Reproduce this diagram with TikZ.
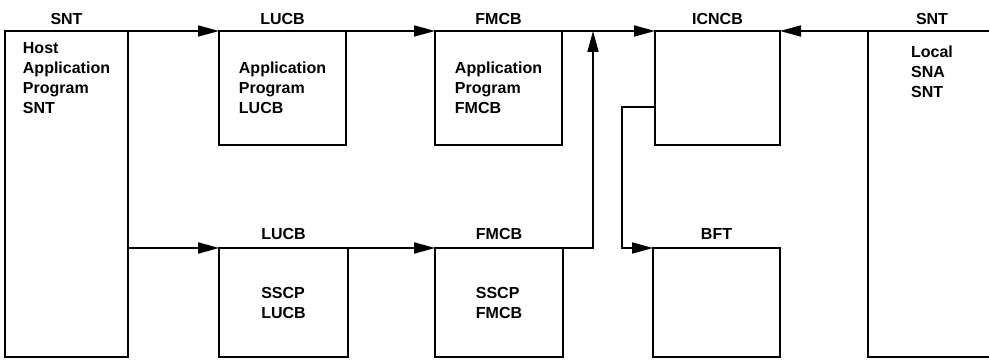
\documentclass[tikz,border=0pt]{standalone}
\usepackage{fontspec}
\setmainfont{Liberation Sans}
\usetikzlibrary{arrows.meta,positioning}
\tikzset{blk/.style={draw,line width=1.7pt,anchor=north west,outer sep=0pt,inner sep=0pt,align=left},
         upbox/.style={blk,minimum width=127pt,minimum height=114pt},
         lowbox/.style={blk,minimum width=128pt,minimum height=109pt},
         tallbox/.style={blk,minimum height=326pt},
         boxtxt/.style={align=left,inner sep=0pt}}
\tikzset{flow/.style={line width=1.7pt,-{Triangle[length=21pt,width=11pt]}}}

\begin{document}
\begin{tikzpicture}[x=1pt,y=-1pt,font=\bfseries\fontsize{16}{20}\selectfont,
    label distance=8pt,every label/.style={inner sep=0pt}]
    \useasboundingbox (0,0) rectangle (989,361);
    \clip (0,0) rectangle (989,361);
    % upper row
    \begin{scope}[label distance=6pt]
    \node[tallbox,minimum width=123pt,label={above:SNT}] (host) at (5,31) {};
    \node[upbox,label={above:LUCB}] (applucb) at (219,31) {Application\\Program\\LUCB};
    \node[upbox,label={above:FMCB}] (appfmcb) at (435,31) {Application\\Program\\FMCB};
    \node[upbox,minimum width=125pt,label={above:ICNCB}] (icncb) at (655,31) {};
    \node[tallbox,minimum width=128pt,label={above:SNT}] (local) at (868,31) {};
    \end{scope}
    \node[boxtxt,below=11pt of host.north] (hosttxt) {Host\\Application\\Program\\SNT};
    \node[boxtxt,below=15pt of local.north] (localtxt) {Local\\SNA\\SNT};
    % lower row
    \node[lowbox,minimum width=129pt,label={above:LUCB}] (sslucb) at (219,248) {SSCP\\LUCB};
    \node[lowbox,label={above:FMCB}] (ssfmcb) at (435,248) {SSCP\\FMCB};
    \node[lowbox,minimum width=127pt,label={above:BFT}] (bft) at (653,248) {};
    \coordinate (join) at (593,31);
    \coordinate (bend) at (622,107);
    \draw[flow] (host.north east) -- (applucb.north west);
    \draw[flow] (applucb.north east) -- (appfmcb.north west);
    \draw[flow] (appfmcb.north east) -- (icncb.north west);
    \draw[flow] (local.north west) -- (icncb.north east);
    \draw[flow] (host.east |- sslucb.north) -- (sslucb.north west);
    \draw[flow] (sslucb.north east) -- (ssfmcb.north west);
    \draw[flow] (ssfmcb.north east) -| (join);
    \draw[flow] (icncb.west |- bend) -- (bend) |- (bft.north west);
\end{tikzpicture}
\end{document}
